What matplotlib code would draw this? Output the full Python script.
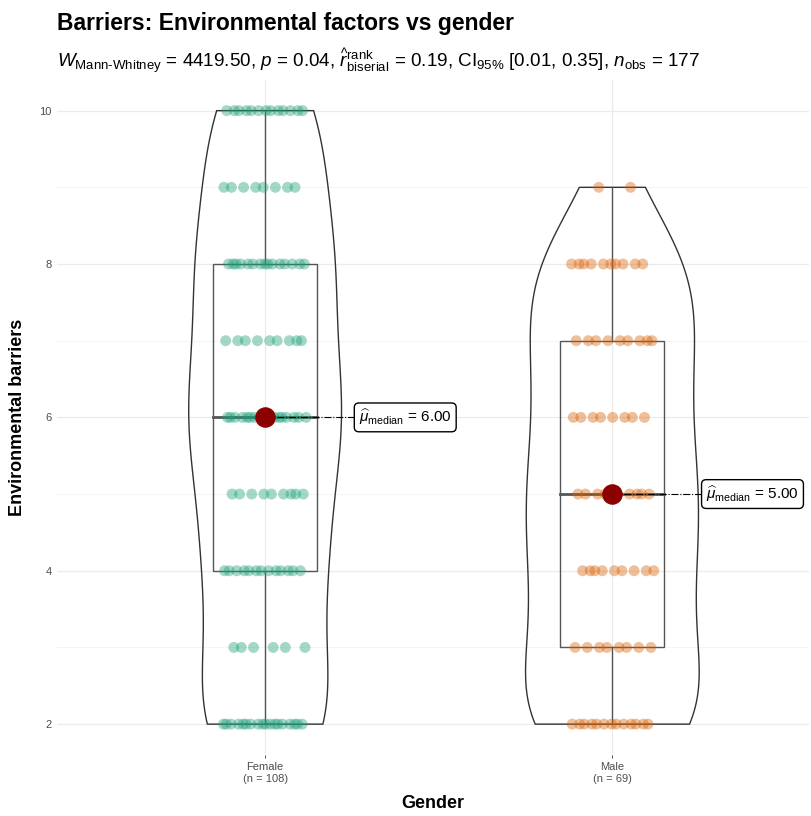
import numpy as np
import matplotlib.pyplot as plt
from matplotlib.patches import Polygon, Rectangle

plt.rcParams['font.family'] = ['Liberation Sans', 'DejaVu Sans']
plt.rcParams['mathtext.fontset'] = 'custom'
plt.rcParams['mathtext.rm'] = 'Liberation Sans'
plt.rcParams['mathtext.it'] = 'Liberation Sans:italic'
plt.rcParams['mathtext.bf'] = 'Liberation Sans:bold'

groups = ['Female', 'Male']
levels = [2, 3, 4, 5, 6, 7, 8, 9, 10]
female_counts = [18, 6, 13, 9, 17, 9, 15, 8, 13]
male_counts = [13, 8, 9, 10, 8, 9, 10, 2, 0]
colors = ['#1B9E77', '#D95F02']
medians_txt = ['6.00', '5.00']

title = 'Barriers: Environmental factors vs gender'
subtitle = ('$W_{\\mathrm{Mann\u2010Whitney}}$ = 4419.50, $p$ = 0.04, '
            r'$\widehat{r}_{\mathrm{biserial}}^{\mathrm{rank}}$ = 0.19, '
            r'CI$_{95\%}$ [0.01, 0.35], $n_{\mathrm{obs}}$ = 177')


def expand(counts):
    return np.repeat(levels, counts).astype(float)


data = [expand(female_counts), expand(male_counts)]


def kde(x, grid):
    # gaussian kernel, R's nrd0 bandwidth
    n = len(x)
    iqr = np.subtract(*np.percentile(x, [75, 25]))
    bw = 0.9 * min(np.std(x, ddof=1), iqr / 1.34) * n ** -0.2
    z = (grid[:, None] - x[None, :]) / bw
    return np.exp(-0.5 * z ** 2).sum(axis=1) / (n * bw * np.sqrt(2 * np.pi))


fig = plt.figure(figsize=(8.11, 8.16), dpi=100)
ax = fig.add_axes([0.070, 0.075, 0.927, 0.827])

# violins, area-scaled, trimmed to data range
grids, dens = [], []
for d in data:
    g = np.linspace(d.min(), d.max(), 512)
    grids.append(g)
    dens.append(kde(d, g))
dmax = max(dd.max() for dd in dens)
for i, (g, dd) in enumerate(zip(grids, dens)):
    xc = i + 1
    w = 0.25 * dd / dmax
    pts = np.concatenate([np.column_stack([xc - w, g]),
                          np.column_stack([xc + w, g])[::-1]])
    ax.add_patch(Polygon(pts, closed=True, fc='none', ec='#333333',
                         lw=1.0, zorder=2))

# boxes
for i, d in enumerate(data):
    xc = i + 1
    q1, med, q3 = np.percentile(d, [25, 50, 75])
    ax.add_patch(Rectangle((xc - 0.15, q1), 0.3, q3 - q1, fc='none',
                           ec='#555555', lw=1.0, zorder=3))
    ax.plot([xc - 0.15, xc + 0.15], [med, med], color='#555555', lw=2, zorder=3)
    ax.plot([xc, xc], [q3, d.max()], color='#555555', lw=1.0, zorder=3)
    ax.plot([xc, xc], [d.min(), q1], color='#555555', lw=1.0, zorder=3)

# jittered points
phi = 0.6180339887
for i, d in enumerate(data):
    xc = i + 1
    k = np.arange(len(d))
    off = ((k * phi + 0.31 * i) % 1.0 - 0.5) * 0.24
    ax.scatter(xc + off, d, s=62, color=colors[i], alpha=0.4,
               edgecolors='none', zorder=4)

# median points + labels
for i, d in enumerate(data):
    xc = i + 1
    med = np.median(d)
    ax.scatter([xc], [med], s=190, color='#8B0000', zorder=6)
    ax.plot([xc, xc + 0.265], [med, med], color='black', lw=0.8,
            ls='-.', zorder=5)
    ax.text(xc + 0.27, med,
            r'$\widehat{\mu}_{\mathrm{median}}$ = ' + medians_txt[i],
            ha='left', va='center', fontsize=11, zorder=7,
            bbox=dict(boxstyle='round,pad=0.3', fc='white', ec='black', lw=1))

ax.set_xlim(0.4, 2.565)
ax.set_ylim(1.6, 10.4)
ax.set_xticks([1, 2])
ax.set_xticklabels([f'{g}\n(n = {len(d)})' for g, d in zip(groups, data)])
ax.set_yticks([2, 4, 6, 8, 10])
ax.set_yticks([3, 5, 7, 9], minor=True)
ax.tick_params(axis='both', which='major', labelsize=8, colors='#4D4D4D',
               length=3, width=0.6)
ax.tick_params(axis='y', which='major', length=0)
ax.tick_params(axis='x', which='major', length=2, color='#333333')
ax.tick_params(which='minor', length=0)
ax.grid(True, which='major', color='#EBEBEB', lw=0.9)
ax.grid(True, which='minor', axis='y', color='#F3F3F3', lw=0.6)
ax.set_axisbelow(True)
for s in ax.spines.values():
    s.set_visible(False)

ax.set_xlabel('Gender', fontsize=13, fontweight='bold', labelpad=8)
ax.set_ylabel('Environmental barriers', fontsize=13, fontweight='bold', labelpad=10)

fig.text(0.070, 0.985, title, fontsize=16.5, fontweight='bold', va='top', ha='left')
fig.text(0.070, 0.942, subtitle, fontsize=13.6, va='top', ha='left')

fig.savefig('out.png', dpi=100)
